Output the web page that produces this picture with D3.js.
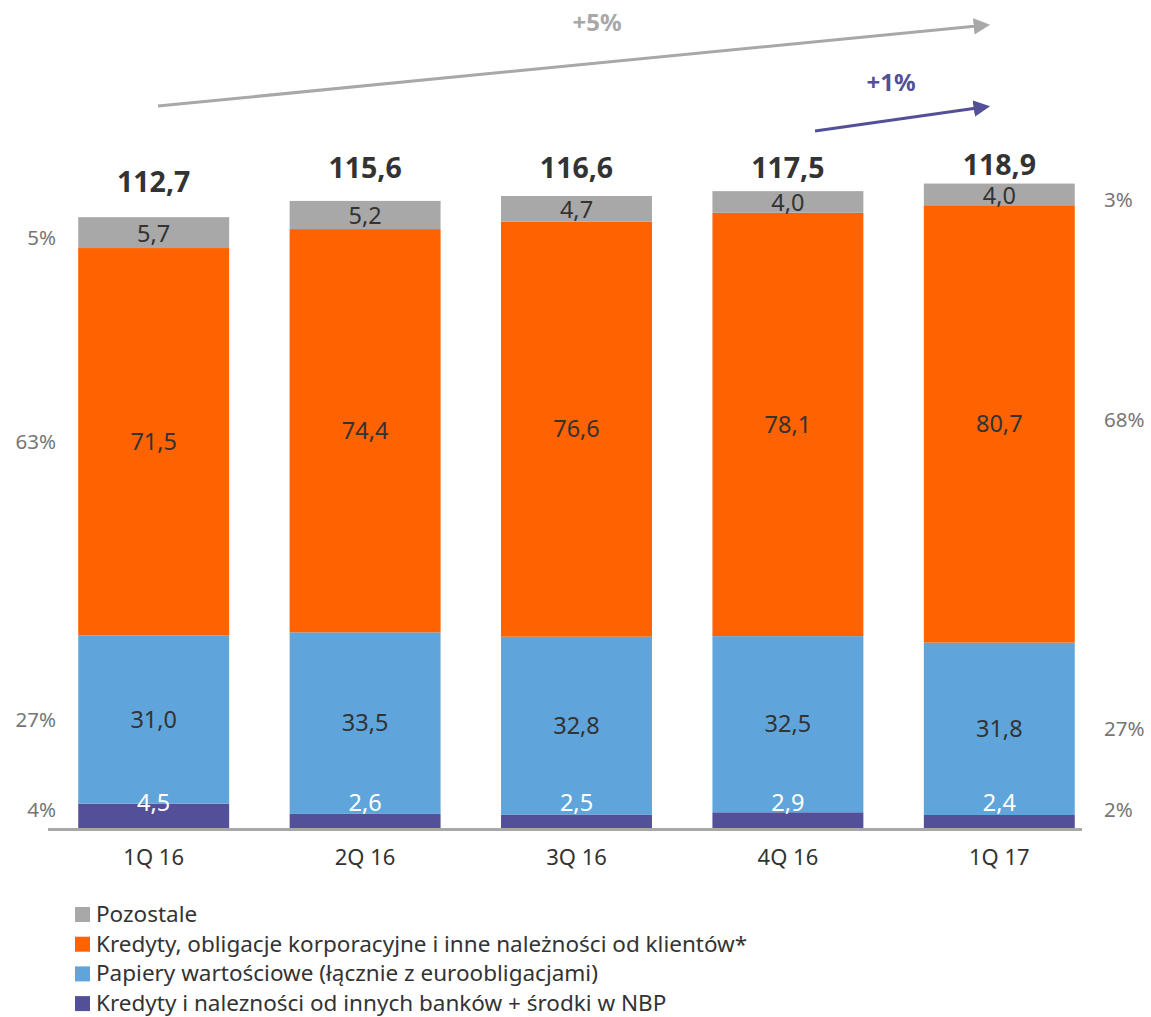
<!DOCTYPE html>
<html><head><meta charset="utf-8">
<script src="https://cdn.jsdelivr.net/npm/d3@7"></script>
<style>body{margin:0;background:#fff}svg{display:block}</style>
</head><body>
<svg id="c" width="1151" height="1017"></svg>
<script>
const categories = ["1Q 16","2Q 16","3Q 16","4Q 16","1Q 17"];
const banks   = [4.5, 2.6, 2.5, 2.9, 2.4];
const securities = [31.0, 33.5, 32.8, 32.5, 31.8];
const loans   = [71.5, 74.4, 76.6, 78.1, 80.7];
const other   = [5.7, 5.2, 4.7, 4.0, 4.0];
const totals  = [112.7, 115.6, 116.6, 117.5, 118.9];
const leftShares  = ["4%","27%","63%","5%"];
const rightShares = ["2%","27%","68%","3%"];
const legendNames = [
  "Pozostale",
  "Kredyty, obligacje korporacyjne i inne należności od klientów*",
  "Papiery wartościowe (łącznie z euroobligacjami)",
  "Kredyty i nalezności od innych banków + środki w NBP"
];
const growthLabels = ["+5%","+1%"];

const colors = ["#535099","#5FA5DB","#FF6200","#A8A8A8"];
const legendColors = ["#A8A8A8","#FF6200","#5FA5DB","#535099"];
const font = "'Noto Sans', 'Open Sans', sans-serif";

const svg = d3.select("#c");
const x = d3.scaleBand().domain(categories).range([48,1105]).paddingInner(0.286).paddingOuter(0.143);
const y = d3.scaleLinear().domain([0,100]).range([828,286]);

const rows = categories.map((c,i)=>({cat:c, v:[banks[i],securities[i],loans[i],other[i]], total:totals[i]}));
const stacked = d3.stack().keys([0,1,2,3]).value((d,k)=>d.v[k])(rows);

const g = svg.append("g");
stacked.forEach((layer,k)=>{
  g.selectAll(null).data(layer).join("rect")
    .attr("x", d=>x(d.data.cat)).attr("width", x.bandwidth())
    .attr("y", d=>y(d[1])).attr("height", d=>y(d[0])-y(d[1]))
    .attr("fill", colors[k]);
});
// value labels
const fmt = v => v.toFixed(1).replace(".", ",");
stacked.forEach((layer,k)=>{
  g.selectAll(null).data(layer).join("text")
    .attr("x", d=>x(d.data.cat)+x.bandwidth()/2)
    .attr("y", d=> k===0 ? y(0)-25 : (y(d[0])+y(d[1]))/2 + (k===3 ? 1 : 0))
    .attr("dy","0.35em")
    .attr("text-anchor","middle")
    .attr("font-family",font).attr("font-size",23.5)
    .attr("fill", k===0 ? "#ffffff" : "#333333")
    .text(d=>fmt(d.data.v[k]));
});
// totals
g.selectAll(null).data(rows).join("text")
  .attr("x", d=>x(d.cat)+x.bandwidth()/2)
  .attr("y", d=>Math.min(Math.max(y(d.total)-25, 178), y(d.total)-9))
  .attr("text-anchor","middle")
  .attr("font-family",font).attr("font-size",28.5).attr("font-weight","bold")
  .attr("fill","#333333")
  .text(d=>fmt(d.total));

// baseline
svg.append("line").attr("x1",48).attr("x2",1082).attr("y1",y(0)+1.5).attr("y2",y(0)+1.5)
  .attr("stroke","#A8A8A8").attr("stroke-width",3);

// share labels
const first = stacked.map(l=>l[0]), last = stacked.map(l=>l[l.length-1]);
const shareY = (d,k) => {
  const m = (y(d[0])+y(d[1]))/2;
  if (k===0) return y(0)-18;
  if (k===3) return m+5;
  return m;
};
first.forEach((d,k)=>{
  svg.append("text").attr("x",56).attr("y",shareY(d,k)).attr("dy","0.35em")
    .attr("text-anchor","end").attr("font-family",font).attr("font-size",20.5).attr("fill","#767676")
    .text(leftShares[k]);
});
last.forEach((d,k)=>{
  svg.append("text").attr("x",1104).attr("y",shareY(d,k) + (k===2?-4:0)).attr("dy","0.35em")
    .attr("text-anchor","start").attr("font-family",font).attr("font-size",20.5).attr("fill","#767676")
    .text(rightShares[k]);
});

// x axis labels
const xAxis = svg.append("g").attr("transform",`translate(0,${y(0)+3})`)
  .call(d3.axisBottom(x).tickSize(0).tickPadding(18));
xAxis.select(".domain").remove();
xAxis.selectAll("text").attr("font-family",font).attr("font-size",22).attr("fill","#333333");

// arrows
const defs = svg.append("defs");
[["ag","#A8A8A8"],["ap","#535099"]].forEach(([id,c])=>{
  defs.append("marker").attr("id",id).attr("viewBox","0 0 10 10").attr("refX",2).attr("refY",5)
    .attr("markerWidth",5.5).attr("markerHeight",5.5).attr("orient","auto")
    .append("path").attr("d","M0,0 L10,5 L0,10 z").attr("fill",c);
});
svg.append("line").attr("x1",158).attr("y1",106).attr("x2",977).attr("y2",26)
  .attr("stroke","#A8A8A8").attr("stroke-width",3).attr("marker-end","url(#ag)");
svg.append("line").attr("x1",815).attr("y1",131).attr("x2",977).attr("y2",108)
  .attr("stroke","#535099").attr("stroke-width",3).attr("marker-end","url(#ap)");
svg.append("text").attr("x",597).attr("y",31).attr("text-anchor","middle")
  .attr("font-family",font).attr("font-size",24).attr("font-weight","bold").attr("fill","#A8A8A8").text(growthLabels[0]);
svg.append("text").attr("x",891).attr("y",91).attr("text-anchor","middle")
  .attr("font-family",font).attr("font-size",24).attr("font-weight","bold").attr("fill","#535099").text(growthLabels[1]);

// legend
const lg = svg.append("g");
legendNames.forEach((n,i)=>{
  const yy = 914 + i*29.7;
  lg.append("rect").attr("x",75).attr("y",yy-7).attr("width",15).attr("height",15).attr("fill",legendColors[i]);
  lg.append("text").attr("x",96).attr("y",yy).attr("dy","0.35em")
    .attr("font-family",font).attr("font-size",22.5).attr("fill","#333333").text(n);
});
</script>
</body></html>
